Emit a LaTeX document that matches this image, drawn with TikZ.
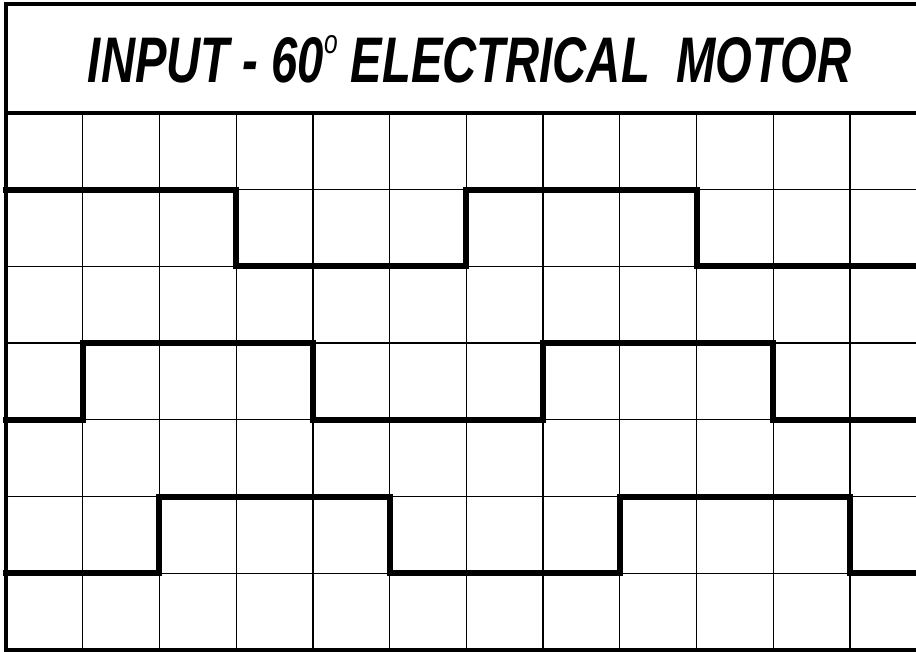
\documentclass[tikz,border=0pt]{standalone}
\usepackage{fontspec}
\setmainfont{Liberation Sans}
\begin{document}
\begin{tikzpicture}[x=1pt,y=-1pt,
  gridline/.style={line width=1.3pt,black},
  frameline/.style={line width=4pt,black},
  wave/.style={line width=6pt,black,line join=miter,line cap=rect}]
\useasboundingbox (0,0) rectangle (916,652);
\fill[white] (0,0) rectangle (916,652);
% grid
\foreach \k in {1,...,11} \draw[gridline] ({6+\k*76.73},113) -- ({6+\k*76.73},650);
\foreach \j in {1,...,6} \draw[gridline] (6,{113+\j*76.71}) -- (916,{113+\j*76.71});
% frame
\draw[frameline] (916,4.5) -- (6,4.5) -- (6,650) -- (916,650);
\draw[frameline] (6,113) -- (916,113);
% title
\node[anchor=base,inner sep=0pt] (title) at (469.5,83)
  {\resizebox{763pt}{45pt}{\bfseries\itshape INPUT - 60\smash{\raisebox{4.6pt}{\mdseries\fontsize{5.2}{5}\selectfont o}} ELECTRICAL\ \ MOTOR}};
% waveforms
\draw[wave] (6,{113+1*76.71}) -| ({6+3*76.73},{113+2*76.71}) -| ({6+6*76.73},{113+1*76.71}) -| ({6+9*76.73},{113+2*76.71}) -- (918,{113+2*76.71});
\draw[wave] (6,{113+4*76.71}) -| ({6+1*76.73},{113+3*76.71}) -| ({6+4*76.73},{113+4*76.71}) -| ({6+7*76.73},{113+3*76.71}) -| ({6+10*76.73},{113+4*76.71}) -- (918,{113+4*76.71});
\draw[wave] (6,{113+6*76.71}) -| ({6+2*76.73},{113+5*76.71}) -| ({6+5*76.73},{113+6*76.71}) -| ({6+8*76.73},{113+5*76.71}) -| ({6+11*76.73},{113+6*76.71}) -- (918,{113+6*76.71});
\end{tikzpicture}
\end{document}
